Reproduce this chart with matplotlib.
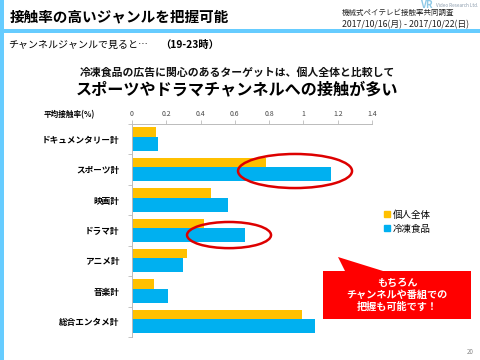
import matplotlib
matplotlib.use("Agg")
import matplotlib.pyplot as plt
from matplotlib.patches import Ellipse, Polygon, Rectangle, Patch
import numpy as np

plt.rcParams["font.family"] = ["Noto Sans CJK JP", "DejaVu Sans"]

# data
genres = ["ドキュメンタリー計", "スポーツ計", "映画計", "ドラマ計", "アニメ計", "音楽計", "総合エンタメ計"]
all_persons = [0.14, 0.78, 0.46, 0.42, 0.32, 0.13, 0.99]
frozen_food = [0.15, 1.16, 0.56, 0.66, 0.30, 0.21, 1.07]
series_names = ["個人全体", "冷凍食品"]
x_ticks = [0, 0.2, 0.4, 0.6, 0.8, 1, 1.2, 1.4]

YELLOW = "#FFC000"
BLUE = "#00B0F0"
HEAD_BLUE = "#66CCFF"
W, H = 480, 360


def fx(x):
    return x / W


def fy(y):
    return 1 - y / H


fig = plt.figure(figsize=(4.8, 3.6), dpi=100)

# page frame: left strip and header rule
fig.patches.append(Rectangle((0, 0), fx(4), 1, transform=fig.transFigure,
                             color=HEAD_BLUE, lw=0))
fig.patches.append(Rectangle((0, fy(32.5)), 1, 3.2 / H, transform=fig.transFigure,
                             color=HEAD_BLUE, lw=0))

fig.text(fx(10), fy(16), "接触率の高いジャンルを把握可能", fontsize=10.5,
         fontweight="bold", va="center", ha="left")
fig.text(fx(342), fy(13), "機械式ペイテレビ接触率共同調査", fontsize=5.4,
         va="center", ha="left", color="#222222")
fig.text(fx(342), fy(24.5), "2017/10/16(月) - 2017/10/22(日)", fontsize=6.3,
         va="center", ha="left", color="#222222")
fig.text(fx(420), fy(5), "VR", fontsize=7, fontweight="bold", color="#8FC9E6",
         va="center", ha="left", style="italic")
fig.text(fx(436), fy(5.5), "Video Research Ltd.", fontsize=3.3, color="#8899AA",
         va="center", ha="left")

fig.text(fx(8), fy(45), "チャンネルジャンルで見ると…", fontsize=7.2,
         va="center", ha="left")
fig.text(fx(160), fy(45), "（19-23時）", fontsize=7.4, fontweight="bold",
         va="center", ha="left")

fig.text(fx(237), fy(72.5), "冷凍食品の広告に関心のあるターゲットは、個人全体と比較して",
         fontsize=7.8, fontweight="bold", va="center", ha="center", color="#111111")
fig.text(fx(237), fy(89), "スポーツやドラマチャンネルへの接触が多い",
         fontsize=11.6, fontweight="bold", va="center", ha="center")

# chart
ax = fig.add_axes([fx(132), fy(337), fx(372) - fx(132), fy(124) - fy(337)])
y = np.arange(len(genres))
ax.barh(y - 0.238, all_persons, height=0.31, color=YELLOW, label=series_names[0])
ax.barh(y + 0.148, frozen_food, height=0.46, color=BLUE, label=series_names[1])

ax.set_xlim(0, 1.4)
ax.set_ylim(len(genres) - 0.5, -0.5)
ax.xaxis.tick_top()
ax.set_xticks(x_ticks)
ax.set_xticklabels([f"{t:g}" for t in x_ticks], fontsize=5, color="#444444")
ax.tick_params(axis="x", length=3, width=0.6, color="#BBBBBB", pad=1.5)
ax.set_yticks(y)
ax.set_yticklabels(genres, fontsize=6.2, fontweight="bold")
ax.tick_params(axis="y", which="major", length=0, pad=9)
ax.set_yticks(np.arange(len(genres) + 1) - 0.5, minor=True)
ax.tick_params(axis="y", which="minor", length=3, width=0.6, color="#BBBBBB")
for side in ["right", "bottom"]:
    ax.spines[side].set_visible(False)
for side in ["top", "left"]:
    ax.spines[side].set_color("#BBBBBB")
    ax.spines[side].set_linewidth(0.7)

fig.text(fx(44), fy(115), "平均接触率(%)", fontsize=5.5, fontweight="bold",
         va="center", ha="left")

# highlight ellipses
ax.add_patch(Ellipse((0.951, 1.045), 0.665, 1.12, fill=False, ec="#DD0000",
                     lw=1.8, clip_on=False))
ax.add_patch(Ellipse((0.566, 3.15), 0.49, 0.86, fill=False, ec="#DD0000",
                     lw=1.8, clip_on=False))

handles = [Patch(color=YELLOW), Patch(color=BLUE)]
fig.legend(handles, series_names, loc="upper left", bbox_to_anchor=(fx(384), fy(210)),
           bbox_transform=fig.transFigure, frameon=False, fontsize=6.8,
           handlelength=0.6, handleheight=0.6, handletextpad=0.3,
           labelspacing=0.55, borderpad=0, borderaxespad=0)

# callout box
pts = [(323, 271), (345, 271), (338, 257), (383, 271), (471, 271), (471, 319), (323, 319)]
fig.patches.append(Polygon([(fx(a), fy(b)) for a, b in pts], closed=True,
                           transform=fig.transFigure, color="#FF0000", lw=0))
fig.text(fx(397), fy(295), "もちろん\nチャンネルや番組での\n把握も可能です！",
         fontsize=7.3, fontweight="bold", color="white", ha="center", va="center",
         linespacing=1.25)

fig.text(fx(474), fy(352), "20", fontsize=4.5, color="#888888", style="italic",
         ha="right", va="center")

fig.savefig("out.png", dpi=100)
